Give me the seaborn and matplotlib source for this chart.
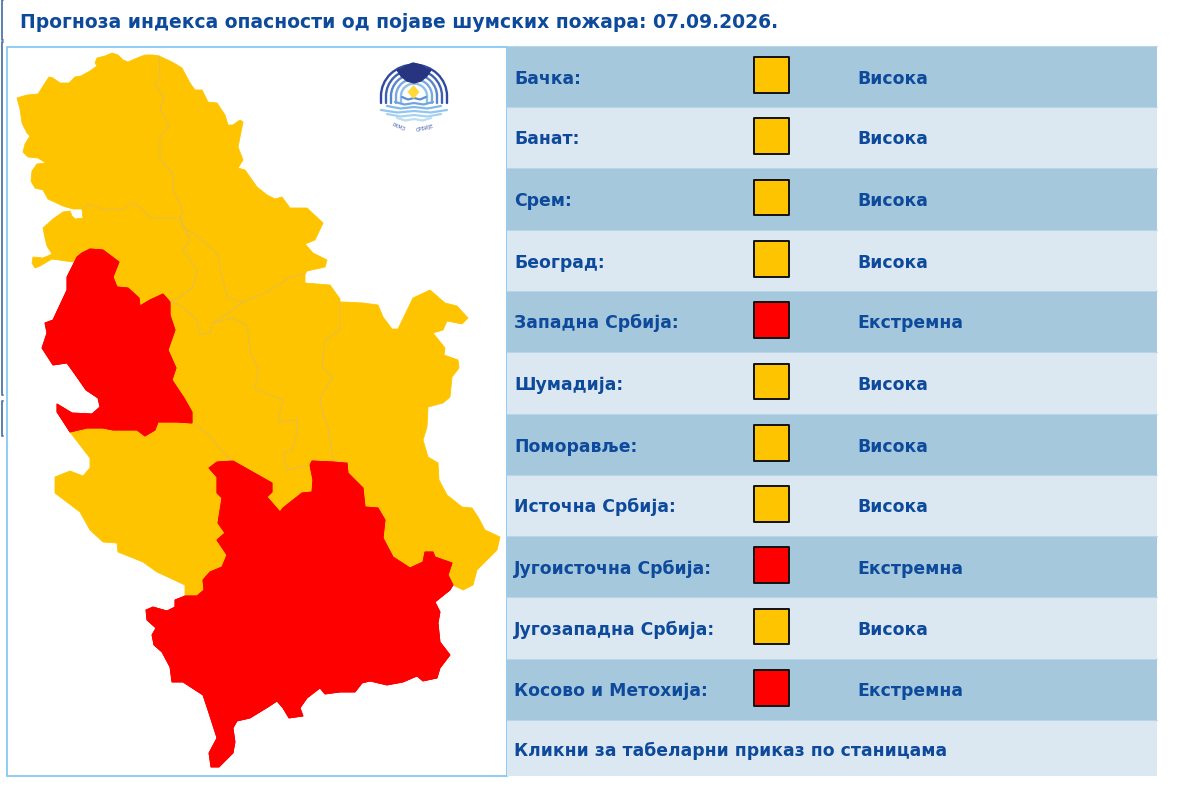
import matplotlib
matplotlib.use("Agg")
import matplotlib.pyplot as plt
from matplotlib.patches import Rectangle, Arc
import pandas as pd
import seaborn as sns

# ---------- table data ----------
REGIONS = ["Бачка:", "Банат:", "Срем:", "Београд:", "Западна Србија:", "Шумадија:",
           "Поморавље:", "Источна Србија:", "Југоисточна Србија:", "Југозападна Србија:",
           "Косово и Метохија:"]
LEVELS = ["Висока", "Висока", "Висока", "Висока", "Екстремна", "Висока",
          "Висока", "Висока", "Екстремна", "Висока", "Екстремна"]
TITLE = "Прогноза индекса опасности од појаве шумских пожара: 07.09.2026."
FOOTER = "Кликни за табеларни приказ по станицама"
LEVEL_COLORS = {"Висока": "#FFC400", "Екстремна": "#FF0000"}
ROW_EDGES = [46, 107, 168, 230, 291, 352, 414, 475, 536, 597, 659, 720, 776]

# ---------- map outline pieces (image pixels) ----------
backa_outer = [(159,56),(153,55),(145,55),(137,58),(128,62),(123,60),(118,55),(112,53),(105,56),(97,58),(95,63),
               (97,66),(90,71),(81,76),(75,77),(69,83),(60,83),(53,78),(49,77),(45,83),(40,91),(38,94),(27,95),
               (17,98),(20,109),(22,123),(27,133),(30,136),(25,144),(23,152),(28,157),(38,158),(46,163),(37,164),
               (32,171),(31,181),(35,188),(43,190),(48,199),(63,206),(73,209),(82,209)]
backa_srem = [(82,209),(88,204),(103,209),(123,209),(133,203),(143,209),(150,218),(167,218),(180,218)]
backa_banat = [(180,218),(183,213),(180,204),(173,189),(173,174),(160,159),(160,136),(169,126),(160,109),
               (164,98),(155,84),(160,78),(159,56)]
banat_outer = [(159,56),(172,62),(182,68),(190,83),(195,90),(202,90),(208,102),(217,103),(225,115),(228,125),
               (233,125),(240,120),(243,122),(238,147),(243,160),(238,168),(245,170),(257,187),(267,195),(275,199),
               (282,197),(290,208),(307,208),(323,223),(315,240),(305,244),(313,253),(327,260),(325,267),(307,271),
               (305,274)]
danube_east = [(305,274),(290,277),(278,285),(267,292),(243,302)]
banat_belgrade = [(243,302),(227,297),(221,272),(217,253),(198,237),(193,233),(183,228),(180,218)]
srem_outer = [(82,209),(83,218),(75,219),(72,216),(70,211),(63,212),(53,219),(43,228),(45,238),(47,246),(52,254),
              (43,258),(33,257),(32,263),(35,268),(40,266),(52,259),(73,262),(78,256),(82,253)]
west_top = [(82,253),(90,249),(103,250),(119,262),(113,277),(117,287),(128,288),(139,298),(140,306),(150,300),
            (163,294),(170,302)]
srem_belgrade = [(170,302),(183,295),(193,287),(197,270),(183,250),(190,240),(182,222),(180,218)]
belgrade_sum = [(170,302),(180,305),(197,320),(200,335),(210,333),(213,323)]
belgrade_pom = [(213,323),(233,310),(243,302)]
west_east = [(170,302),(170,315),(175,330),(168,350),(176,368),(172,380),(184,398),(192,412),(192,423)]
west_south = [(192,423),(177,422),(158,422),(155,430),(145,436),(137,430),(113,430),(103,428),(87,428),(70,432)]
west_outer = [(70,432),(57,412),(57,404),(72,413),(92,414),(100,407),(98,398),(86,390),(77,377),(67,363),(53,365),
              (42,348),(47,333),(45,323),(53,320),(67,290),(67,277),(77,257),(82,253)]
line_a = [(213,323),(233,318),(247,325),(250,350),(258,370),(255,388),(257,390),(283,400),(278,422),(297,420),
          (297,433),(292,450),(283,453),(287,470),(310,465)]
line_b = [(340,302),(340,330),(325,340),(322,367),(333,377),(320,397),(323,415),(328,427),(333,460),(347,463)]
line_c = [(192,423),(207,433),(227,457),(233,461)]
pom_top = [(305,274),(305,283),(330,285),(340,299),(340,302)]
east_outer = [(340,302),(343,302),(363,303),(378,305),(383,317),(392,329),(398,329),(413,298),(430,290),(445,303),
              (457,306),(468,318),(462,324),(447,321),(443,330),(433,333),(445,348),(444,355),(458,360),(459,368),
              (452,377),(450,397),(443,403),(428,407),(427,427),(423,440),(428,457),(438,463),(439,480),(447,495),
              (462,507),(472,508),(478,517),(485,530),(500,537),(497,550),(477,570),(473,585),(463,590),(453,585)]
red_east = [(453,585),(448,575),(452,563),(435,557),(433,552),(425,552),(423,562),(410,568),(393,557),(383,538),
            (385,520),(378,508),(365,507),(363,488),(348,473),(347,463)]
red_pom = [(347,463),(333,462),(312,461),(310,465)]
red_sum = [(310,465),(313,480),(312,492),(302,493),(283,508),(280,512),(267,497),(272,492),(272,483),(233,461)]
red_sw = [(233,461),(217,462),(209,468),(217,477),(217,493),(222,498),(218,523),(225,533),(217,540),(227,555),
          (222,567),(210,572),(203,580),(204,590),(197,596),(185,596)]
sw_outer = [(185,596),(185,585),(157,572),(143,562),(118,552),(117,543),(103,542),(90,530),(80,512),(55,493),
            (55,477),(70,471),(83,476),(90,468),(90,458),(70,432)]
red_south = [(185,596),(175,600),(175,607),(167,611),(153,607),(146,610),(147,620),(156,628),(152,635),(154,645),
             (162,652),(170,667),(172,682),(183,682),(203,695),(208,710),(217,738),(209,753),(211,767),(219,767),
             (233,753),(235,742),(233,728),(237,721),(250,718),(268,707),(277,701),(283,708),(289,718),(303,716),
             (300,708),(307,698),(320,688),(325,694),(340,692),(355,692),(362,683),(370,681),(387,685),(403,682),
             (417,676),(423,681),(437,678),(440,668),(450,655),(440,642),(438,623),(440,612),(435,602),(450,590),
             (453,585)]

REGION_SHAPES = {
    "Бачка:": backa_outer + backa_srem + backa_banat,
    "Банат:": banat_outer + danube_east + banat_belgrade + backa_banat,
    "Срем:": srem_outer + west_top + srem_belgrade + backa_srem[::-1],
    "Београд:": banat_belgrade + srem_belgrade[::-1] + belgrade_sum + belgrade_pom,
    "Шумадија:": west_east[::-1] + belgrade_sum + line_a + red_sum + line_c[::-1],
    "Поморавље:": belgrade_pom + danube_east[::-1] + pom_top + line_b + red_pom + line_a[::-1],
    "Источна Србија:": east_outer + red_east + line_b[::-1],
    "Југозападна Србија:": west_south[::-1] + line_c + red_sw + sw_outer,
    "Западна Србија:": west_top + west_east + west_south + west_outer,
    "Југоисточна Србија:": red_south + red_east + red_pom + red_sum + red_sw,
}
INNER_LINES = [backa_srem, backa_banat, banat_belgrade, srem_belgrade, belgrade_sum, line_a, line_b, line_c,
               danube_east, belgrade_pom]

# ---------- figure ----------
sns.set_theme(style="white")
BLUE = "#0E4A9B"
fig = plt.figure(figsize=(12, 7.87), dpi=100)
ax = fig.add_axes([0, 0, 1, 1])
ax.set_xlim(0, 1200)
ax.set_ylim(787, 0)
ax.axis("off")

# page fragments at the left edge
for y0, y1 in [(0, 40), (42, 395), (401, 436)]:
    ax.plot([3, 1.5, 1.5, 3], [y0, y0, y1, y1], color="#4F74AE", lw=1.3)

# map frame
ax.add_patch(Rectangle((6.5, 46.5), 500, 729, fc="white", ec="#7CC4F4", lw=1.2, zorder=1))

# regions
level_of = dict(zip(REGIONS, LEVELS))
for name, pts in REGION_SHAPES.items():
    xs, ys = zip(*pts)
    c = LEVEL_COLORS[level_of[name]]
    ax.fill(xs, ys, facecolor=c, edgecolor=c, lw=0.6, joinstyle="round", zorder=2)
for seg in INNER_LINES:
    xs, ys = zip(*seg)
    ax.plot(xs, ys, color="#E3BC4C", lw=0.7, zorder=3)
for name in ["Западна Србија:", "Југоисточна Србија:"]:
    xs, ys = zip(*REGION_SHAPES[name])
    ax.fill(xs, ys, facecolor="#FF0000", edgecolor="#FF0000", lw=0.6, joinstyle="round", zorder=4)

# logo
LOGO_CX = 414
LOGO_WIDTHS = [66, 56, 46, 36, 26]
LOGO_COLORS = ["#2F49A0", "#3E5FB2", "#5A85CC", "#7AA9DF", "#8FC0EA"]
for w, col in zip(LOGO_WIDTHS, LOGO_COLORS):
    ax.add_patch(Arc((LOGO_CX, 96), w, w * 0.95, theta1=180, theta2=360, color=col, lw=1.7, zorder=5))
    ax.plot([LOGO_CX - w / 2, LOGO_CX - w / 2], [96, 103], color=col, lw=1.7, zorder=5)
    ax.plot([LOGO_CX + w / 2, LOGO_CX + w / 2], [96, 103], color=col, lw=1.7, zorder=5)
WAVE_Y = [98, 103, 107, 111, 115, 119]
WAVE_W = [24, 38, 54, 66, 54, 34]
WAVE_C = ["#5E8FD4", "#6FA6E0", "#82B8E8", "#93C5EE", "#A6D2F2", "#BBDEF6"]
for y, w, col in zip(WAVE_Y, WAVE_W, WAVE_C):
    ax.plot([LOGO_CX - w / 2, LOGO_CX - w / 4, LOGO_CX, LOGO_CX + w / 4, LOGO_CX + w / 2],
            [y - 1, y + 1.5, y, y + 1.5, y - 1], color=col, lw=1.6, zorder=5)
CLOUD = [(397,70),(403,68),(406,66),(413,63),(421,65),(425,68),(431,70),(427,76),(421,81),(414,83),(407,81),(401,76)]
ax.fill(*zip(*CLOUD), color="#27347F", zorder=6)
DIAMOND = [(413.5,86),(418.5,92),(413.5,98),(408.5,92)]
ax.fill(*zip(*DIAMOND), color="#FFD83A", zorder=6)
ax.text(398, 127, "РХМЗ", fontsize=3.6, color="#3F5FA8", ha="center", va="center", rotation=-22,
        family="DejaVu Sans", zorder=6)
ax.text(425, 128, "СРБИЈЕ", fontsize=3.6, color="#3F5FA8", ha="center", va="center", rotation=14,
        family="DejaVu Sans", zorder=6)

# table stripes
for i, (t, b) in enumerate(zip(ROW_EDGES[:-1], ROW_EDGES[1:])):
    ax.add_patch(Rectangle((507, t), 650, b - t, fc="#A5C8DC" if i % 2 == 0 else "#DCE8F1",
                           ec="none", zorder=1))
    ax.plot([507, 1157], [t, t], color="#B8D6E8", lw=0.8, zorder=1.5)

# swatches via seaborn
rows = pd.DataFrame({
    "region": REGIONS,
    "level": LEVELS,
    "x": 771.5,
    "y": [(t + b) / 2 - 1.5 for t, b in zip(ROW_EDGES[:-2], ROW_EDGES[1:-1])],
})
sns.scatterplot(data=rows, x="x", y="y", hue="level", palette=LEVEL_COLORS, marker="s", s=640,
                edgecolor="#111111", linewidth=1.4, legend=False, ax=ax, zorder=3)
ax.set_xlim(0, 1200)
ax.set_ylim(787, 0)
ax.axis("off")

# texts
text_style = dict(color=BLUE, fontweight="bold", family="DejaVu Sans", va="baseline", ha="left")
ax.text(20, 28.5, TITLE, fontsize=13.5, **text_style)
for _, r in rows.iterrows():
    ax.text(514, r["y"] + 8.5, r["region"], fontsize=12.4, **text_style)
    ax.text(857, r["y"] + 8.5, r["level"], fontsize=12.4, **text_style)
ax.text(514, 755.5, FOOTER, fontsize=12.4, **text_style)

fig.savefig("out.png", dpi=100)
